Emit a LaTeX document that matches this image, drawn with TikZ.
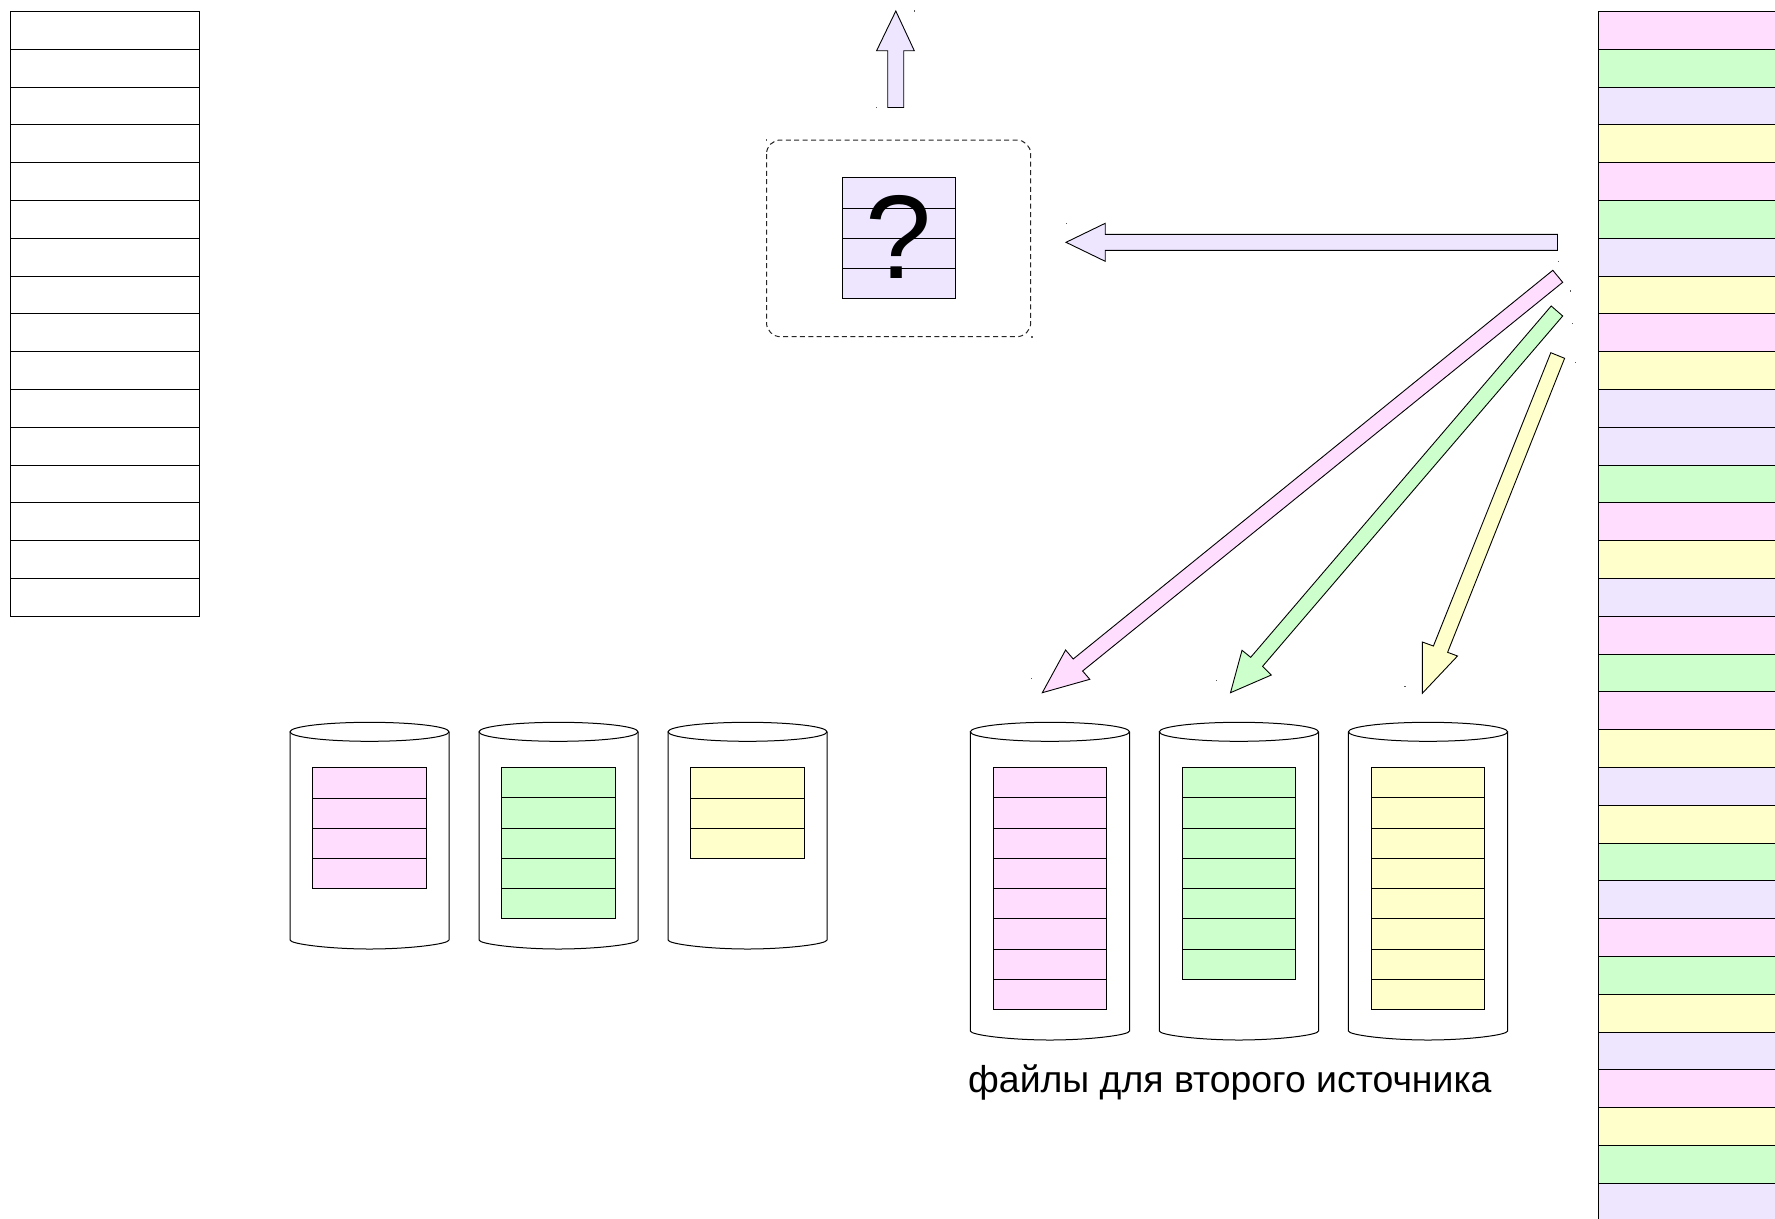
\documentclass[tikz,border=0pt]{standalone}
\usepackage{fontspec}
\setmainfont{Liberation Sans}
\definecolor{pk}{HTML}{FFDDFF}
\definecolor{gr}{HTML}{CCFFCC}
\definecolor{lv}{HTML}{EEE6FF}
\definecolor{yl}{HTML}{FFFFCC}
\tikzset{
  cell/.style={draw=black,line width=0.9pt},
  block/.style={draw=black,line width=0.9pt,line join=miter},
  tank/.style={draw=black,line width=1pt,fill=white},
  speck/.style={fill=black!65,draw=none},
  framebox/.style={draw=black!85,line width=1pt,dash pattern=on 5pt off 3.4pt,rounded corners=14pt},
}
% x1, x2, top y, rows, colour, row height
\newcommand{\filestack}[6]{%
  \foreach \i in {1,...,#4}{%
    \draw[cell,fill=#5] (#1,{#3+(\i-1)*#6}) rectangle (#2,{#3+\i*#6});
  }}
% left x, right x, body bottom y
\newcommand{\tankshape}[3]{%
  \draw[tank] (#1,732) -- (#1,#3)
    .. controls (#1,{#3+4}) and ({#1+40},{#3+9}) .. ({(#1+#2)/2},{#3+9})
    .. controls ({#2-40},{#3+9}) and (#2,{#3+4}) .. (#2,#3) -- (#2,732);
  \draw[tank] ({(#1+#2)/2},731.8) ellipse [x radius={(#2-#1)/2},y radius=9.5];
}
\newcommand{\speckat}[2]{\fill[speck] ({#1-0.6},{#2-0.6}) rectangle ({#1+0.6},{#2+0.6});}
\begin{document}
\begin{tikzpicture}[x=1pt,y=-1pt]
\useasboundingbox (0,0) rectangle (1775,1218.4);
\fill[white] (0,0) rectangle (1775,1218.4);

% left empty stack
\filestack{10}{199}{11.5}{16}{white}{37.8}

% right coloured stack
\begin{scope}
\clip (0,0) rectangle (1775,1218.4);
\foreach \c [count=\i] in {pk,gr,lv,yl,pk,gr,lv,yl,pk,yl,lv,lv,gr,pk,yl,lv,pk,gr,pk,yl,lv,yl,gr,lv,pk,gr,yl,lv,pk,yl,gr,lv}{
  \draw[cell,fill=\c] (1598,{11.5+(\i-1)*37.8}) rectangle (1790,{11.5+\i*37.8});
}
\end{scope}

% up arrow
\draw[block,fill=lv] (895.8,11) -- (914.3,50.7) -- (903.7,50.7) -- (903.7,107.5) -- (887.7,107.5) -- (887.7,50.7) -- (876.6,50.7) -- cycle;

% dashed frame with queried block
\draw[framebox] (766.5,140) rectangle (1030.7,336.7);
\filestack{842}{955.3}{177.7}{4}{lv}{30.25}
\node[anchor=base,inner sep=0pt,font=\fontsize{119}{119}\selectfont] (query) at (899,278.3) {?};

% left arrow
\draw[block,fill=lv] (1066,242.3) -- (1105.2,223.3) -- (1105.2,234.3) -- (1557.5,234.3) -- (1557.5,250.3) -- (1105.2,250.3) -- (1105.2,261.3) -- cycle;

% diagonal arrows
\draw[block,fill=pk] (1552.8,270.3) -- (1562.7,282.3) -- (1082.6,671) -- (1089.8,679.3) -- (1042.3,692.7) -- (1065.6,650) -- (1073.2,659) -- cycle;
\draw[block,fill=gr] (1551.2,306) -- (1562.7,316) -- (1262.6,666.3) -- (1271.3,675) -- (1230.5,692.7) -- (1242,650.3) -- (1250.7,657.3) -- cycle;
\draw[block,fill=yl] (1550.8,352.7) -- (1564.6,358.3) -- (1447.6,652.3) -- (1457.5,656) -- (1422.3,693.3) -- (1422.3,642) -- (1433.4,646) -- cycle;

% first source tanks
\tankshape{290}{449}{940}
\tankshape{479}{638}{940}
\tankshape{668}{827}{940}
\filestack{312.3}{426.3}{767.7}{4}{pk}{30.25}
\filestack{501.7}{615.3}{767.7}{5}{gr}{30.2}
\filestack{690.5}{804}{767.7}{3}{yl}{30.25}

% second source tanks
\tankshape{970.3}{1129.5}{1031}
\tankshape{1159.3}{1318.5}{1031}
\tankshape{1348.4}{1507.6}{1031}
\filestack{993.2}{1106.5}{767.7}{8}{pk}{30.23}
\filestack{1182.3}{1295.6}{767.7}{7}{gr}{30.23}
\filestack{1371.4}{1484.6}{767.7}{8}{yl}{30.23}

\node[anchor=base west,inner sep=0pt,font=\fontsize{37.4}{38}\selectfont] (caption) at (968,1092.7) {файлы для второго источника};

% small corner specks
\speckat{914.7}{11}
\speckat{876.7}{107.5}
\speckat{766.7}{140}
\speckat{1032}{337}
\speckat{1066.4}{223.3}
\speckat{1558.3}{261.3}
\speckat{1570.2}{291}
\speckat{1572.6}{323.3}
\speckat{1575.7}{362.3}
\speckat{1031.6}{678.3}
\speckat{1216.7}{680.7}
\speckat{1404.9}{686.7}
\end{tikzpicture}
\end{document}
